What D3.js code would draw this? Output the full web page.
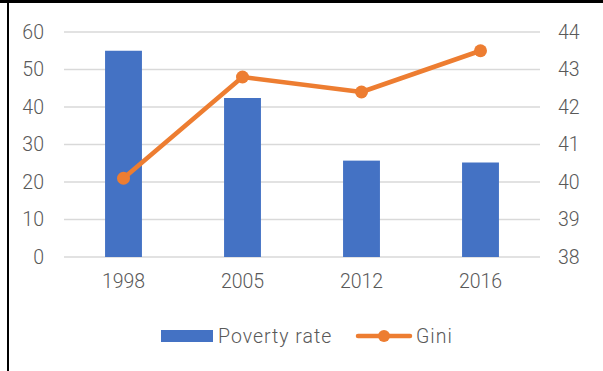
<!DOCTYPE html>
<html>
<head>
<meta charset="utf-8">
<script src="https://cdn.jsdelivr.net/npm/d3@7"></script>
<style>
  html, body { margin: 0; padding: 0; background: #fff; }
  svg { display: block; }
  text { font-family: Roboto, "Liberation Sans", Arial, sans-serif; font-weight: 300; fill: #595959; }
</style>
</head>
<body>
<svg id="chart" width="603" height="371"></svg>
<script>
const years = ["1998", "2005", "2012", "2016"];
const povertyRate = [55, 42.4, 25.7, 25.2];
const gini = [40.1, 42.8, 42.4, 43.5];
const leftTicks = [0, 10, 20, 30, 40, 50, 60];
const rightTicks = [38, 39, 40, 41, 42, 43, 44];
const seriesNames = ["Poverty rate", "Gini"];

const svg = d3.select("#chart");
const W = 603, H = 371;
const plot = { left: 64, right: 540, top: 32, bottom: 257 };
const fontSize = "19.5px";

// frame lines along the top and left edges
svg.append("line").attr("x1", 0).attr("x2", W).attr("y1", 1.5).attr("y2", 1.5)
  .attr("stroke", "#000").attr("stroke-width", 3);
svg.append("line").attr("x1", 8).attr("x2", 8).attr("y1", 0).attr("y2", H)
  .attr("stroke", "#000").attr("stroke-width", 2);

const x = d3.scaleBand().domain(years).range([plot.left, plot.right]).paddingInner(0.69).paddingOuter(0.345);
const yL = d3.scaleLinear().domain([0, 60]).range([plot.bottom, plot.top]);
const yR = d3.scaleLinear().domain([38, 44]).range([plot.bottom, plot.top]);

// gridlines
svg.append("g").selectAll("line").data(leftTicks).join("line")
  .attr("x1", plot.left).attr("x2", plot.right)
  .attr("y1", d => yL(d)).attr("y2", d => yL(d))
  .attr("stroke", "#d9d9d9").attr("stroke-width", 1.5);

function styleAxis(g) {
  g.select(".domain").remove();
  g.selectAll("text").style("font-size", fontSize).attr("fill", "#595959");
}

// left axis
svg.append("g").attr("transform", `translate(${plot.left - 20},0)`)
  .call(d3.axisLeft(yL).tickValues(leftTicks).tickFormat(d3.format("d")).tickSize(0).tickPadding(0))
  .call(styleAxis);

// right axis
svg.append("g").attr("transform", `translate(${plot.right + 18},0)`)
  .call(d3.axisRight(yR).tickValues(rightTicks).tickFormat(d3.format("d")).tickSize(0).tickPadding(0))
  .call(styleAxis);

// bottom axis
svg.append("g").attr("transform", `translate(0,${plot.bottom + 17})`)
  .call(d3.axisBottom(x).tickSize(0).tickPadding(0))
  .call(styleAxis);

// bars
svg.append("g").selectAll("rect").data(years).join("rect")
  .attr("x", d => x(d)).attr("width", x.bandwidth())
  .attr("y", (d, i) => yL(povertyRate[i]))
  .attr("height", (d, i) => yL(0) - yL(povertyRate[i]))
  .attr("fill", "#4472C4");

// Gini line with markers
const cx = d => x(d) + x.bandwidth() / 2;
svg.append("path").datum(years)
  .attr("d", d3.line().x(cx).y((d, i) => yR(gini[i])))
  .attr("fill", "none").attr("stroke", "#ED7D31").attr("stroke-width", 4.5)
  .attr("stroke-linejoin", "round").attr("stroke-linecap", "round");
svg.append("g").selectAll("circle").data(years).join("circle")
  .attr("cx", cx).attr("cy", (d, i) => yR(gini[i])).attr("r", 6.5)
  .attr("fill", "#ED7D31");

// legend
const lg = svg.append("g");
lg.append("rect").attr("x", 161).attr("y", 330).attr("width", 52).attr("height", 12).attr("fill", "#4472C4");
lg.append("text").attr("x", 218).attr("y", 343).style("font-size", fontSize)
  .style("letter-spacing", "1px").text(seriesNames[0]);
lg.append("line").attr("x1", 358).attr("x2", 410).attr("y1", 336).attr("y2", 336)
  .attr("stroke", "#ED7D31").attr("stroke-width", 4.5).attr("stroke-linecap", "round");
lg.append("circle").attr("cx", 384).attr("cy", 336).attr("r", 6).attr("fill", "#ED7D31");
lg.append("text").attr("x", 416).attr("y", 343).style("font-size", fontSize)
  .style("letter-spacing", "1px").text(seriesNames[1]);
</script>
</body>
</html>
